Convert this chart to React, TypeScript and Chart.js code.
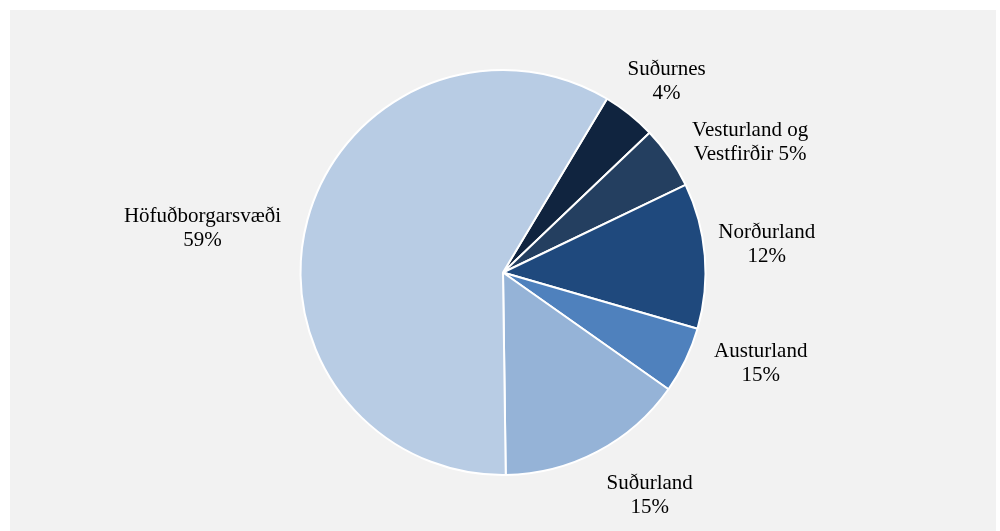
import React, { useEffect, useRef } from "react";
import { Chart, registerables } from "chart.js";

Chart.register(...registerables);

const categories = [
  "Suðurnes",
  "Vesturland og Vestfirðir",
  "Norðurland",
  "Austurland",
  "Suðurland",
  "Höfuðborgarsvæði",
];
const shares = [4.3, 5.0, 11.6, 5.3, 15.0, 58.8];
const labelLines = [
  ["Suðurnes", "4%"],
  ["Vesturland og", "Vestfirðir 5%"],
  ["Norðurland", "12%"],
  ["Austurland", "15%"],
  ["Suðurland", "15%"],
  ["Höfuðborgarsvæði", "59%"],
];
const sliceColors = ["#10243f", "#243f60", "#1f497d", "#4f81bd", "#95b3d7", "#b8cce4"];

// label placement: [angle shift from slice middle (deg), distance as share of radius]
const labelPlacement = [
  [2.0, 1.24],
  [6.8, 1.38],
  [-1.4, 1.31],
  [-6.2, 1.35],
  [-5.5, 1.32],
  [-6.7, 1.5],
];

const labelPlugin = {
  id: "outerLabels",
  afterDatasetsDraw(chart: any) {
    const meta = chart.getDatasetMeta(0);
    const ctx = chart.ctx;
    ctx.save();
    ctx.font = '21px "Liberation Serif", "Times New Roman", serif';
    ctx.fillStyle = "#000000";
    ctx.textAlign = "center";
    ctx.textBaseline = "middle";
    meta.data.forEach((arc: any, i: number) => {
      const p = arc.getProps(["x", "y", "startAngle", "endAngle", "outerRadius"], true);
      const [shift, dist] = labelPlacement[i];
      const a = (p.startAngle + p.endAngle) / 2 + (shift * Math.PI) / 180;
      const cx = p.x + Math.cos(a) * p.outerRadius * dist;
      const cy = p.y + Math.sin(a) * p.outerRadius * dist;
      const lines = labelLines[i];
      const lh = 24;
      lines.forEach((t, k) => {
        ctx.fillText(t, cx, cy + (k - (lines.length - 1) / 2) * lh);
      });
    });
    ctx.restore();
  },
};

export default function App() {
  const ref = useRef<HTMLCanvasElement | null>(null);
  useEffect(() => {
    if (!ref.current) return;
    const chart = new Chart(ref.current, {
      type: "pie",
      data: {
        labels: categories,
        datasets: [
          {
            data: shares,
            backgroundColor: sliceColors,
            borderColor: "#ffffff",
            borderWidth: 2,
            hoverOffset: 0,
          },
        ],
      },
      options: {
        responsive: false,
        animation: false,
        rotation: 30.9,
        layout: { padding: { top: 59, bottom: 55, left: 0, right: 0 } },
        plugins: {
          legend: { display: false },
          tooltip: { enabled: false },
        },
      },
      plugins: [labelPlugin],
    });
    return () => chart.destroy();
  }, []);
  return (
    <div style={{ position: "absolute", left: 0, top: 0, width: 1000, height: 531, background: "#ffffff" }}>
      <div style={{ position: "absolute", left: 10, top: 10, width: 986, height: 521, background: "#f2f2f2" }}>
        <canvas ref={ref} width={986} height={521} style={{ display: "block" }} />
      </div>
    </div>
  );
}
